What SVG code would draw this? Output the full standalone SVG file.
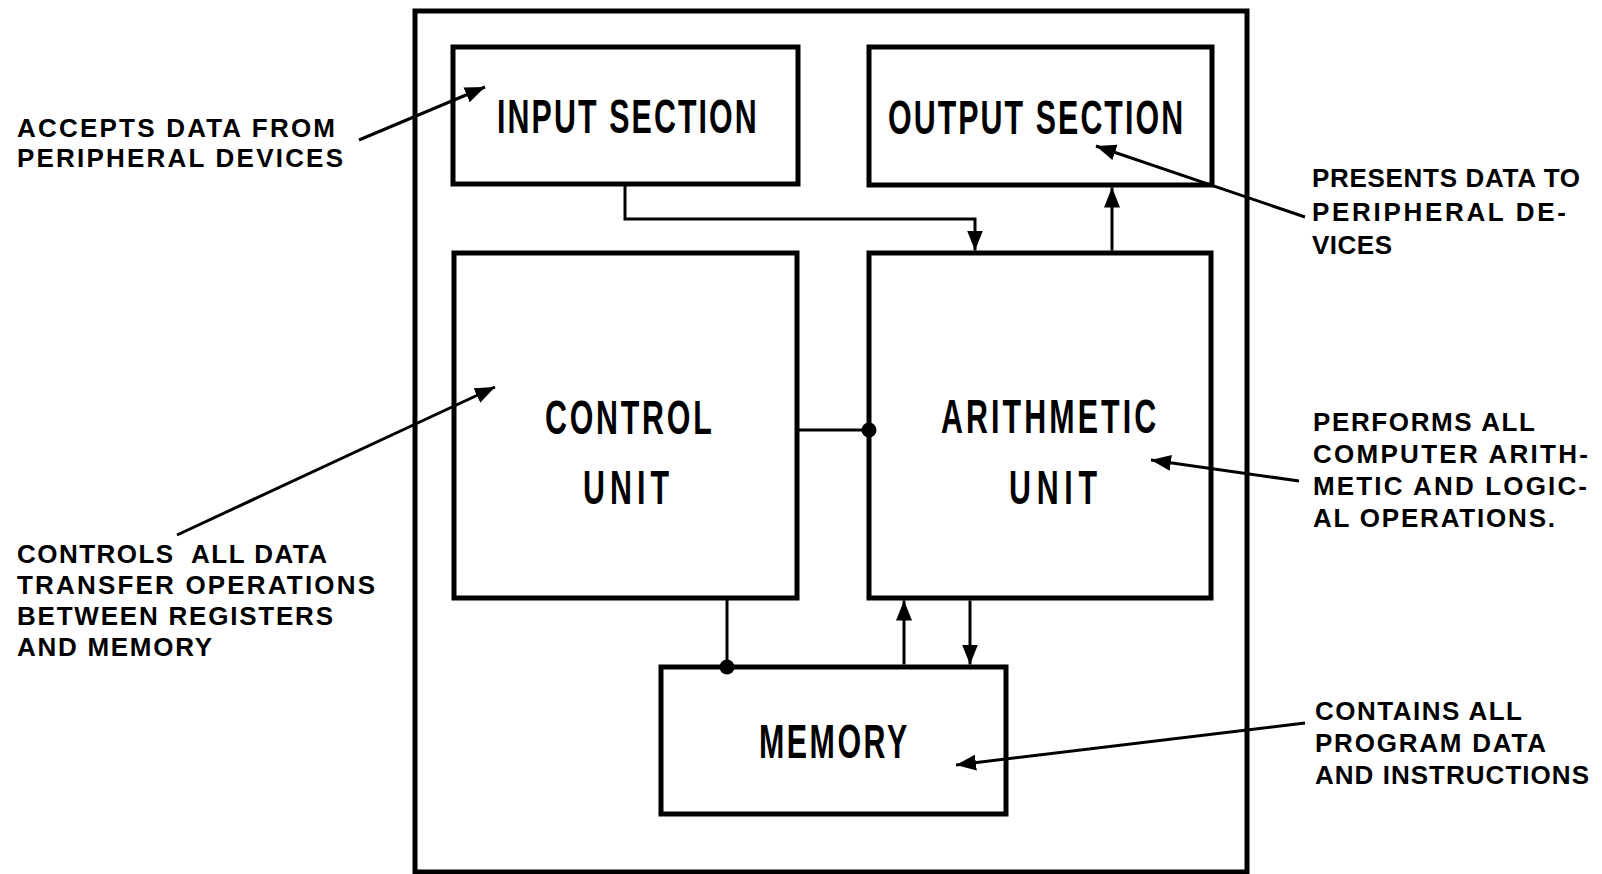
<svg xmlns="http://www.w3.org/2000/svg" width="1602" height="874" viewBox="0 0 1602 874">
  <style>
    .box { fill: none; stroke: #000; stroke-width: 5; stroke-linejoin: miter; }
    .frame { fill: none; stroke: #000; stroke-width: 5; }
    .wire { fill: none; stroke: #000; stroke-width: 3; }
    .lead { fill: none; stroke: #000; stroke-width: 3; }
    .title { font-family: "Liberation Sans", Arial, sans-serif; font-size: 49px; font-weight: bold; fill: #000; }
    .note { font-family: "Liberation Sans", Arial, sans-serif; font-size: 26px; font-weight: bold; fill: #000; white-space: pre; }
    .dot { fill: #000; }
  </style>
  <defs>
    <marker id="ah" markerUnits="userSpaceOnUse" markerWidth="22" markerHeight="18" refX="20" refY="9" orient="auto" viewBox="0 0 22 18">
      <path d="M0,1 L20,9 L0,17 Z" fill="#000"/>
    </marker>
  </defs>
  <rect width="1602" height="874" fill="#fff"/>

  <!-- computer enclosure -->
  <rect class="frame" x="415" y="11" width="832" height="861"/>

  <!-- unit titles use narrow lettering: glyphs squeezed to 62% width -->
  <g id="input-section">
    <rect class="box" x="453" y="47" width="345" height="137"/>
    <text class="title" transform="translate(497,133) scale(0.62,1)" textLength="419" lengthAdjust="spacing">INPUT SECTION</text>
  </g>
  <g id="output-section">
    <rect class="box" x="869" y="47" width="343" height="138"/>
    <text class="title" transform="translate(888,134) scale(0.62,1)" textLength="476" lengthAdjust="spacing">OUTPUT SECTION</text>
  </g>
  <g id="control-unit">
    <rect class="box" x="454" y="253" width="343" height="345"/>
    <text class="title" transform="translate(545,434) scale(0.62,1)" textLength="269" lengthAdjust="spacing">CONTROL</text>
    <text class="title" transform="translate(583,504) scale(0.62,1)" textLength="139" lengthAdjust="spacing">UNIT</text>
  </g>
  <g id="arithmetic-unit">
    <rect class="box" x="869" y="253" width="342" height="345"/>
    <text class="title" transform="translate(941,433) scale(0.62,1)" textLength="347" lengthAdjust="spacing">ARITHMETIC</text>
    <text class="title" transform="translate(1009,504) scale(0.62,1)" textLength="142" lengthAdjust="spacing">UNIT</text>
  </g>
  <g id="memory">
    <rect class="box" x="661" y="667" width="345" height="147"/>
    <text class="title" transform="translate(759,758) scale(0.62,1)" textLength="239" lengthAdjust="spacing">MEMORY</text>
  </g>

  <!-- data paths between units -->
  <g id="connectors">
    <path class="wire" d="M625,186 V219 H975 V250.5" marker-end="url(#ah)"/>
    <path class="wire" d="M1112,250.5 V187.5" marker-end="url(#ah)"/>
    <path class="wire" d="M797,430 H869"/>
    <circle class="dot" cx="869" cy="430" r="7.5"/>
    <path class="wire" d="M727,600 V667"/>
    <circle class="dot" cx="727" cy="667" r="7.5"/>
    <path class="wire" d="M904,664.5 V600.5" marker-end="url(#ah)"/>
    <path class="wire" d="M970,600.5 V664.5" marker-end="url(#ah)"/>
  </g>

  <!-- explanatory notes with leaders -->
  <g id="note-input">
    <text class="note" x="17" y="137" textLength="318" lengthAdjust="spacing">ACCEPTS DATA FROM</text>
    <text class="note" x="17" y="167" textLength="326" lengthAdjust="spacing">PERIPHERAL DEVICES</text>
    <path class="lead" d="M359,140 L485,87" marker-end="url(#ah)"/>
  </g>
  <g id="note-output">
    <text class="note" x="1312" y="187" textLength="268" lengthAdjust="spacing">PRESENTS DATA TO</text>
    <text class="note" x="1312" y="221" textLength="254" lengthAdjust="spacing">PERIPHERAL DE-</text>
    <text class="note" x="1312" y="254" textLength="80" lengthAdjust="spacing">VICES</text>
    <path class="lead" d="M1305,217 L1096,146" marker-end="url(#ah)"/>
  </g>
  <g id="note-control">
    <text class="note" x="17" y="563" textLength="310" lengthAdjust="spacing">CONTROLS  ALL DATA</text>
    <text class="note" x="17" y="594" textLength="358" lengthAdjust="spacing">TRANSFER OPERATIONS</text>
    <text class="note" x="17" y="625" textLength="316" lengthAdjust="spacing">BETWEEN REGISTERS</text>
    <text class="note" x="17" y="656" textLength="195" lengthAdjust="spacing">AND MEMORY</text>
    <path class="lead" d="M177,535 L495,387" marker-end="url(#ah)"/>
  </g>
  <g id="note-arithmetic">
    <text class="note" x="1313" y="431" textLength="222" lengthAdjust="spacing">PERFORMS ALL</text>
    <text class="note" x="1313" y="463" textLength="275" lengthAdjust="spacing">COMPUTER ARITH-</text>
    <text class="note" x="1313" y="495" textLength="274" lengthAdjust="spacing">METIC AND LOGIC-</text>
    <text class="note" x="1313" y="527" textLength="242" lengthAdjust="spacing">AL OPERATIONS.</text>
    <path class="lead" d="M1299,481 L1151,460" marker-end="url(#ah)"/>
  </g>
  <g id="note-memory">
    <text class="note" x="1315" y="720" textLength="207" lengthAdjust="spacing">CONTAINS ALL</text>
    <text class="note" x="1315" y="752" textLength="231" lengthAdjust="spacing">PROGRAM DATA</text>
    <text class="note" x="1315" y="784" textLength="274" lengthAdjust="spacing">AND INSTRUCTIONS</text>
    <path class="lead" d="M1305,723 L956,765" marker-end="url(#ah)"/>
  </g>
</svg>
